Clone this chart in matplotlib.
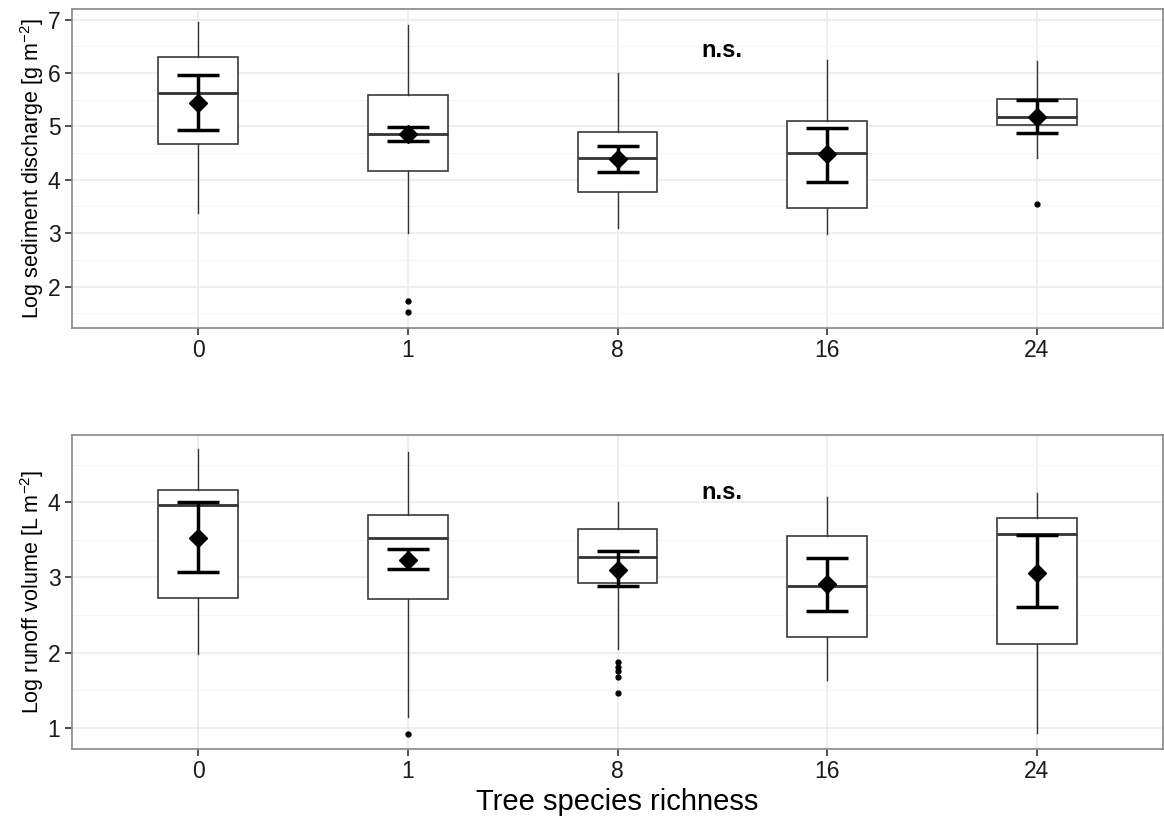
import matplotlib
matplotlib.use("Agg")
import matplotlib.pyplot as plt
from matplotlib.ticker import MultipleLocator

plt.rcParams["font.family"] = ["Liberation Sans", "DejaVu Sans"]
plt.rcParams["mathtext.fontset"] = "custom"
plt.rcParams["mathtext.rm"] = "Liberation Sans"
plt.rcParams["mathtext.it"] = "Liberation Sans:italic"

richness = ["0", "1", "8", "16", "24"]

# sediment discharge (log g m-2): box stats, mean and error bars
sed_whislo = [3.38, 3.01, 3.10, 2.98, 4.40]
sed_q1 = [4.67, 4.16, 3.77, 3.47, 5.03]
sed_med = [5.63, 4.85, 4.40, 4.51, 5.18]
sed_q3 = [6.30, 5.58, 4.89, 5.10, 5.52]
sed_whishi = [6.95, 6.90, 6.01, 6.25, 6.22]
sed_fliers = [[], [1.73, 1.52], [], [], [3.55]]
sed_mean = [5.44, 4.86, 4.38, 4.48, 5.17]
sed_lo = [4.94, 4.72, 4.15, 3.96, 4.87]
sed_hi = [5.96, 4.99, 4.64, 4.97, 5.49]

# runoff volume (log L m-2)
run_whislo = [1.98, 1.14, 2.05, 1.64, 0.93]
run_q1 = [2.72, 2.71, 2.93, 2.21, 2.12]
run_med = [3.97, 3.52, 3.27, 2.89, 3.58]
run_q3 = [4.16, 3.83, 3.64, 3.55, 3.79]
run_whishi = [4.71, 4.67, 4.00, 4.07, 4.12]
run_fliers = [[], [0.92], [1.87, 1.81, 1.75, 1.68, 1.46], [], []]
run_mean = [3.52, 3.23, 3.10, 2.91, 3.06]
run_lo = [3.07, 3.11, 2.88, 2.55, 2.60]
run_hi = [4.00, 3.38, 3.35, 3.26, 3.57]


def panel(ax, whislo, q1, med, q3, whishi, fliers, mean, lo, hi, ylim, ylabel, ns_y):
    stats = []
    for i in range(len(richness)):
        stats.append({"whislo": whislo[i], "q1": q1[i], "med": med[i], "q3": q3[i],
                      "whishi": whishi[i], "fliers": fliers[i]})
    pos = list(range(1, len(richness) + 1))
    ax.bxp(stats, positions=pos, widths=0.38, showcaps=False, patch_artist=True,
           boxprops=dict(facecolor="white", edgecolor="#3a3a3a", linewidth=1.2),
           medianprops=dict(color="#333333", linewidth=2.0),
           whiskerprops=dict(color="#333333", linewidth=1.0),
           flierprops=dict(marker="o", markerfacecolor="black", markeredgecolor="black",
                           markersize=3.5, linestyle="none"),
           zorder=2)
    err = [[m - l for m, l in zip(mean, lo)], [h - m for m, h in zip(mean, hi)]]
    ax.errorbar(pos, mean, yerr=err, fmt="D", color="black", markersize=9,
                elinewidth=2.5, capsize=15, capthick=2.5, zorder=3)
    ax.set_xlim(0.4, 5.6)
    ax.set_ylim(*ylim)
    ax.set_xticks(pos)
    ax.set_xticklabels(richness)
    ax.yaxis.set_major_locator(MultipleLocator(1))
    ax.yaxis.set_minor_locator(MultipleLocator(0.5))
    ax.grid(True, which="major", color="#EBEBEB", linewidth=1.2, zorder=0)
    ax.grid(True, which="minor", axis="y", color="#F5F5F5", linewidth=0.8, zorder=0)
    ax.set_axisbelow(True)
    for s in ax.spines.values():
        s.set_color("#888888")
        s.set_linewidth(1.2)
    ax.tick_params(which="major", labelsize=16.5, color="#333333", length=5, width=1.2,
                   labelcolor="#1a1a1a")
    ax.tick_params(which="minor", length=0)
    ax.set_ylabel(ylabel, fontsize=15.5, labelpad=1)
    ax.text(3.5, ns_y, "n.s.", ha="center", va="center", fontsize=17, fontweight="bold")


fig = plt.figure(figsize=(11.64, 8.19), dpi=100)
ax1 = fig.add_axes([0.062, 0.600, 0.937, 0.389])
ax2 = fig.add_axes([0.062, 0.086, 0.937, 0.383])

panel(ax1, sed_whislo, sed_q1, sed_med, sed_q3, sed_whishi, sed_fliers,
      sed_mean, sed_lo, sed_hi, (1.23, 7.2), r"Log sediment discharge [g m$^{-2}$]", 6.43)
panel(ax2, run_whislo, run_q1, run_med, run_q3, run_whishi, run_fliers,
      run_mean, run_lo, run_hi, (0.72, 4.90), r"Log runoff volume [L m$^{-2}$]", 4.13)
ax2.set_xlabel("Tree species richness", fontsize=21, labelpad=3)

fig.savefig("out.png", dpi=100)
